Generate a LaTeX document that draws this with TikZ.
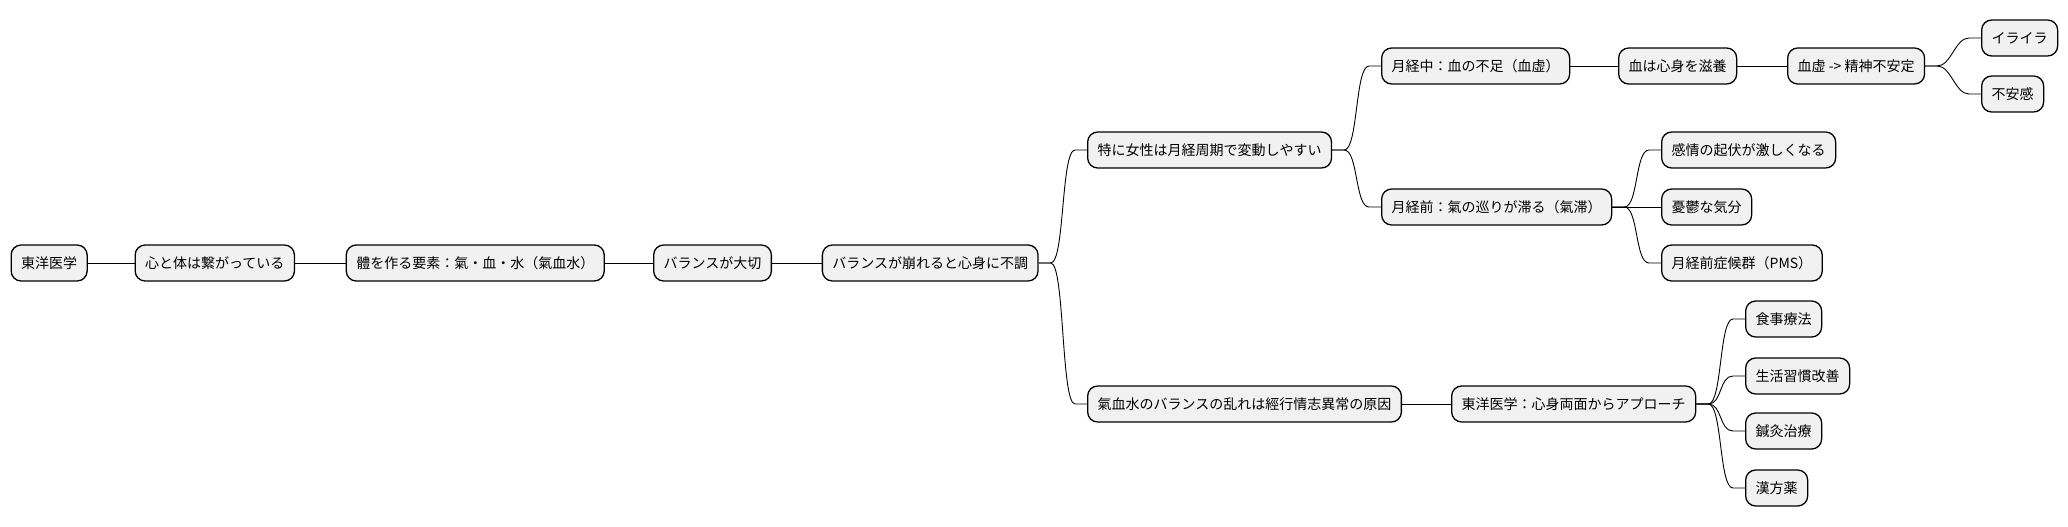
\documentclass[tikz,border=0pt]{standalone}
\usepackage{fontspec}
\setmainfont{Noto Sans CJK JP}
\definecolor{boxfill}{HTML}{F1F1F1}
\begin{document}
\begin{tikzpicture}[x=1pt,y=1pt,
  box/.style={draw=black, line width=1.3pt, fill=boxfill, rounded corners=10pt,
    minimum height=36pt, inner xsep=10pt, inner ysep=0pt, anchor=west,
    font=\fontsize{14}{17}\selectfont},
  link/.style={line width=0.9pt, draw=black}]
\useasboundingbox (0,0) rectangle (2068,-527);
\node[box] (n1) at (10.5,-263) {東洋医学};
\node[box] (n2) at (134.5,-263) {心と体は繋がっている};
\node[box] (n3) at (345.6,-263) {體を作る要素：氣・血・水（氣血水）};
\node[box] (n4) at (653,-263) {バランスが大切};
\node[box] (n5) at (821.7,-263) {バランスが崩れると心身に不調};
\node[box] (n6) at (1087,-150) {特に女性は月経周期で変動しやすい};
\node[box] (n7) at (1087,-404) {氣血水のバランスの乱れは經行情志異常の原因};
\node[box] (n8) at (1381,-66) {月経中：血の不足（血虚）};
\node[box] (n9) at (1381,-207) {月経前：氣の巡りが滞る（氣滞）};
\node[box] (n10) at (1618,-66) {血は心身を滋養};
\node[box] (n11) at (1787,-66) {血虚 -> 精神不安定};
\node[box] (n12) at (1981,-38) {イライラ};
\node[box] (n13) at (1981,-94) {不安感};
\node[box] (n14) at (1661,-150) {感情の起伏が激しくなる};
\node[box] (n15) at (1661,-207) {憂鬱な気分};
\node[box] (n16) at (1661,-263) {月経前症候群（PMS）};
\node[box] (n17) at (1451,-404) {東洋医学：心身両面からアプローチ};
\node[box] (n18) at (1745,-319) {食事療法};
\node[box] (n19) at (1745,-376) {生活習慣改善};
\node[box] (n20) at (1745,-431) {鍼灸治療};
\node[box] (n21) at (1745,-488) {漢方薬};
\newcommand\mmbranch[2]{\draw[link] (#1.east) -- ++(12,0) .. controls +(14,0) and +(-14,0) .. ([xshift=-12pt]#2.west) -- (#2.west);}
\draw[link] (n1) -- (n2);
\draw[link] (n2) -- (n3);
\draw[link] (n3) -- (n4);
\draw[link] (n4) -- (n5);
\mmbranch{n5}{n6}
\mmbranch{n5}{n7}
\mmbranch{n6}{n8}
\mmbranch{n6}{n9}
\draw[link] (n8) -- (n10);
\draw[link] (n10) -- (n11);
\mmbranch{n11}{n12}
\mmbranch{n11}{n13}
\mmbranch{n9}{n14}
\draw[link] (n9) -- (n15);
\mmbranch{n9}{n16}
\draw[link] (n7) -- (n17);
\mmbranch{n17}{n18}
\mmbranch{n17}{n19}
\mmbranch{n17}{n20}
\mmbranch{n17}{n21}
\end{tikzpicture}
\end{document}
